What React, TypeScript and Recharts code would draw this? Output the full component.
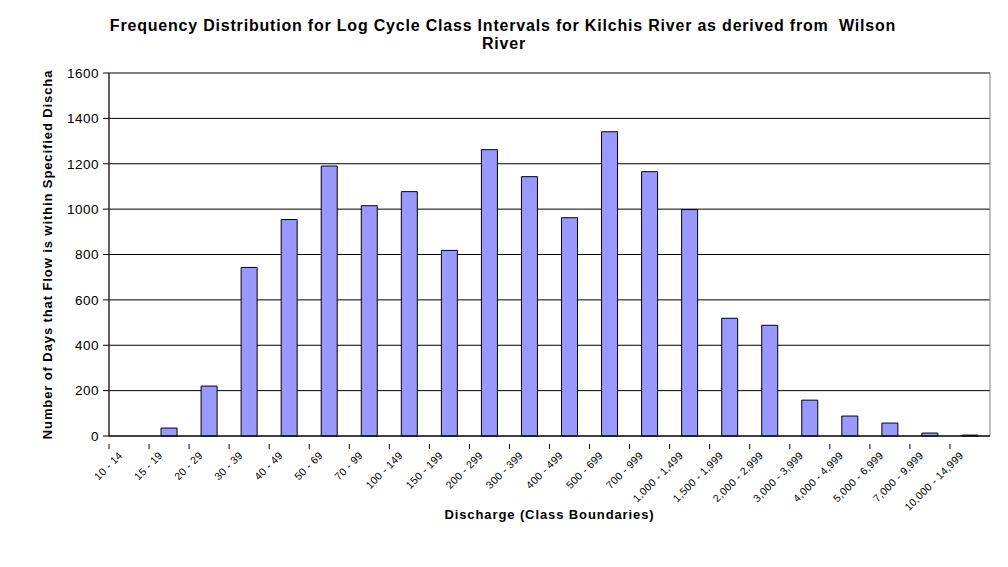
import React from 'react';
import { BarChart, Bar, XAxis, YAxis, CartesianGrid, ReferenceArea } from 'recharts';

// class intervals (discharge, cfs)
const classes = [
  '10 - 14', '15 - 19', '20 - 29', '30 - 39', '40 - 49', '50 - 69', '70 - 99',
  '100 - 149', '150 - 199', '200 - 299', '300 - 399', '400 - 499', '500 - 699',
  '700 - 999', '1,000 - 1,499', '1,500 - 1,999', '2,000 - 2,999', '3,000 - 3,999',
  '4,000 - 4,999', '5,000 - 6,999', '7,000 - 9,999', '10,000 - 14,999',
];

// number of days in each class
const days = [
  0, 35, 220, 743, 954, 1190, 1015, 1077, 818, 1262, 1143, 962, 1341,
  1165, 998, 519, 488, 158, 88, 57, 13, 4,
];

const yTicks = [0, 200, 400, 600, 800, 1000, 1200, 1400, 1600];

const data = classes.map((c, i) => ({ name: c, days: days[i] }));

const W = 1008;
const H = 567;
const margin = { top: 73, right: 18, bottom: 0, left: 40 };
const yAxisWidth = 69;
const xAxisHeight = 131;
const plotW = W - margin.left - margin.right - yAxisWidth;
const band = plotW / classes.length;

const font = 'Arial, "Liberation Sans", Helvetica, sans-serif';

const XTick = (props: any) => {
  const { x, y, payload } = props;
  return (
    <g>
      <line x1={x - band / 2} x2={x - band / 2} y1={y} y2={y + 5} stroke="#000" />
      <g transform={`translate(${x - 8},${y + 10}) rotate(-45)`}>
        <text textAnchor="end" fontSize={10.5} fontFamily={font} fill="#000" dy={3} letterSpacing={0.3}>
          {payload.value}
        </text>
      </g>
    </g>
  );
};

const YTitle = (props: any) => {
  const { viewBox } = props;
  const cx = 52;
  const cy = viewBox.y + viewBox.height / 2;
  return (
    <text
      x={cx}
      y={cy}
      transform={`rotate(-90, ${cx}, ${cy})`}
      textAnchor="middle"
      fontSize={13}
      fontWeight="bold"
      fontFamily={font}
      letterSpacing={0.9}
      fill="#000"
    >
      Number of Days that Flow is within Specified Discha
    </text>
  );
};

const XTitle = (props: any) => {
  const { viewBox } = props;
  return (
    <text
      x={viewBox.x + viewBox.width / 2}
      y={519}
      textAnchor="middle"
      fontSize={13}
      fontWeight="bold"
      fontFamily={font}
      letterSpacing={0.9}
      fill="#000"
    >
      Discharge (Class Boundaries)
    </text>
  );
};

export default function App() {
  return (
    <div style={{ position: 'absolute', left: 0, top: 0, width: W, height: H, background: '#fff' }}>
      <div
        style={{
          position: 'absolute',
          left: 0,
          top: 17,
          width: W,
          textAlign: 'center',
          fontFamily: font,
          fontWeight: 'bold',
          fontSize: 16,
          letterSpacing: 0.8,
          lineHeight: '18px',
          color: '#000',
        }}
      >
        <div style={{ marginLeft: -2 }}>Frequency Distribution for Log Cycle Class Intervals for Kilchis River as derived from&nbsp; Wilson</div>
        <div>River</div>
      </div>
      <BarChart width={W} height={H} data={data} margin={margin} barCategoryGap={0}>
        <CartesianGrid horizontal vertical={false} stroke="#000" />
        <ReferenceArea
          x1={classes[0]}
          x2={classes[classes.length - 1]}
          y1={0}
          y2={1600}
          fill="none"
          stroke="#808080"
          strokeWidth={1}
          ifOverflow="visible"
        />
        <XAxis
          dataKey="name"
          interval={0}
          height={xAxisHeight}
          stroke="#000"
          tickLine={false}
          tick={<XTick />}
          label={<XTitle />}
        />
        <YAxis
          domain={[0, 1600]}
          ticks={yTicks}
          width={yAxisWidth}
          stroke="#000"
          tickSize={6}
          tickMargin={4}
          tick={{ fill: '#000', fontSize: 13.5, fontFamily: font, letterSpacing: 0.5 }}
          interval={0}
          label={<YTitle />}
        />
        <Bar dataKey="days" fill="#9999FF" stroke="#000" strokeWidth={1} barSize={16} isAnimationActive={false} />
      </BarChart>
    </div>
  );
}
